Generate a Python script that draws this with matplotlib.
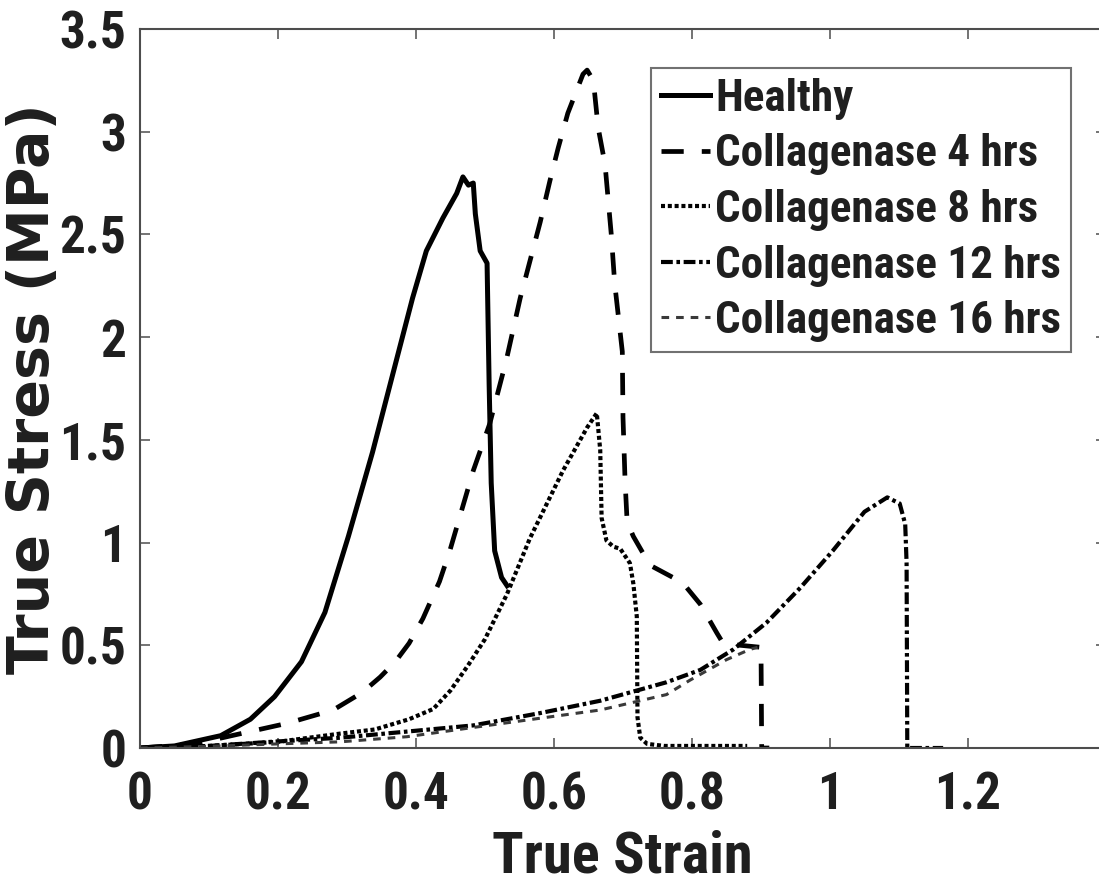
import matplotlib
matplotlib.use("Agg")
import matplotlib.pyplot as plt
from matplotlib import font_manager

# ---- data: true strain / true stress (MPa) for each specimen group ----
healthy_strain = [0, 0.05, 0.117, 0.16, 0.195, 0.234, 0.268, 0.302, 0.337, 0.371,
                  0.395, 0.415, 0.439, 0.459, 0.468, 0.476, 0.483, 0.486, 0.493,
                  0.503, 0.506, 0.509, 0.514, 0.524, 0.532]
healthy_stress = [0, 0.01, 0.06, 0.14, 0.25, 0.42, 0.66, 1.03, 1.44, 1.88,
                  2.19, 2.42, 2.58, 2.70, 2.78, 2.74, 2.75, 2.60, 2.42,
                  2.36, 1.77, 1.29, 0.96, 0.83, 0.79]

c4_strain = [0, 0.08, 0.146, 0.213, 0.28, 0.322, 0.348, 0.37, 0.39, 0.41, 0.434, 0.449,
             0.483, 0.507, 0.531, 0.551, 0.58, 0.594, 0.606, 0.62, 0.642, 0.648,
             0.657, 0.664, 0.674, 0.683, 0.688, 0.699, 0.700, 0.703, 0.706, 0.715,
             0.739, 0.778, 0.79, 0.812, 0.836, 0.845, 0.87, 0.9, 0.901, 0.912]
c4_stress = [0, 0.02, 0.07, 0.12, 0.185, 0.27, 0.345, 0.42, 0.51, 0.63, 0.81, 0.96,
             1.35, 1.58, 1.89, 2.19, 2.56, 2.76, 2.92, 3.09, 3.28, 3.30,
             3.25, 3.02, 2.84, 2.50, 2.26, 1.93, 1.61, 1.30, 1.10, 1.03,
             0.89, 0.82, 0.79, 0.70, 0.56, 0.51, 0.50, 0.49, 0.0, 0.0]

c8_strain = [0, 0.1, 0.2, 0.29, 0.34, 0.39, 0.425, 0.45, 0.475, 0.5, 0.532, 0.565,
             0.613, 0.648, 0.662, 0.667, 0.669, 0.676, 0.686, 0.696, 0.71, 0.715,
             0.72, 0.721, 0.725, 0.735, 0.76, 0.88]
c8_stress = [0, 0.01, 0.03, 0.07, 0.09, 0.14, 0.19, 0.28, 0.40, 0.53, 0.75, 1.02,
             1.35, 1.56, 1.63, 1.45, 1.12, 1.01, 0.98, 0.97, 0.90, 0.80,
             0.64, 0.15, 0.05, 0.02, 0.01, 0.01]

c12_strain = [0, 0.1, 0.19, 0.29, 0.387, 0.483, 0.58, 0.667, 0.763, 0.812, 0.86,
              0.908, 0.957, 1.004, 1.05, 1.083, 1.101, 1.109, 1.111, 1.112, 1.164]
c12_stress = [0, 0.01, 0.03, 0.05, 0.08, 0.11, 0.17, 0.23, 0.32, 0.38, 0.48,
              0.61, 0.78, 0.96, 1.15, 1.22, 1.19, 1.09, 0.90, 0.0, 0.0]

c16_strain = [0, 0.1, 0.2, 0.29, 0.387, 0.483, 0.58, 0.667, 0.763, 0.797, 0.85,
              0.884, 0.895]
c16_stress = [0, 0.008, 0.02, 0.03, 0.055, 0.10, 0.145, 0.185, 0.26, 0.33, 0.43,
              0.48, 0.49]

series_labels = ["Healthy", "Collagenase 4 hrs", "Collagenase 8 hrs",
                 "Collagenase 12 hrs", "Collagenase 16 hrs"]
x_ticks = [0, 0.2, 0.4, 0.6, 0.8, 1.0, 1.2]
x_tick_labels = ["0", "0.2", "0.4", "0.6", "0.8", "1", "1.2"]
y_ticks = [0, 0.5, 1.0, 1.5, 2.0, 2.5, 3.0, 3.5]
y_tick_labels = ["0", "0.5", "1", "1.5", "2", "2.5", "3", "3.5"]


# ---- fonts: a narrow bold sans for horizontal text ----
def pick_narrow():
    bold = {}
    for f in font_manager.fontManager.ttflist:
        w = f.weight if isinstance(f.weight, int) else 400
        bold[f.name] = max(bold.get(f.name, 0), w)
    for name in ["Liberation Sans Narrow", "Arial Narrow", "Nimbus Sans Narrow",
                 "Roboto Condensed", "PT Sans Narrow", "Fira Sans Condensed"]:
        if bold.get(name, 0) >= 700:
            return [name, "Liberation Sans"], "normal"
    return ["DejaVu Sans"], "condensed"


narrow_family, narrow_stretch = pick_narrow()
plt.rcParams["font.family"] = narrow_family
plt.rcParams["font.stretch"] = narrow_stretch
plt.rcParams["font.weight"] = "bold"
plt.rcParams["lines.scale_dashes"] = False

ink = "#1f1f1f"
axis_grey = "#4d4d4d"

W, H = 1099, 888
fig = plt.figure(figsize=(W / 100, H / 100), dpi=100)
# the plotting box runs slightly past the right edge of the canvas
ax = fig.add_axes([140 / W, 140 / H, 966 / W, 719 / H])

ax.plot(healthy_strain, healthy_stress, color="black", lw=3.6,
        solid_joinstyle="round", label=series_labels[0])
ax.plot(c4_strain, c4_stress, color="black", lw=3.4,
        dashes=(16, 13), dash_capstyle="butt", label=series_labels[1])
ax.plot(c8_strain, c8_stress, color="black", lw=3.0,
        dashes=(2.9, 2.0), dash_capstyle="butt", label=series_labels[2])
ax.plot(c12_strain, c12_stress, color="black", lw=3.0,
        dashes=(8.5, 2.6, 2.6, 2.6), dash_capstyle="butt", label=series_labels[3])
ax.plot(c16_strain, c16_stress, color="#3a3a3a", lw=2.2,
        dashes=(5.5, 5.0), dash_capstyle="butt", label=series_labels[4])

ax.set_xlim(0, 1.4)
ax.set_ylim(0, 3.5)
ax.set_xticks(x_ticks)
ax.set_xticklabels(x_tick_labels)
ax.set_yticks(y_ticks)
ax.set_yticklabels(y_tick_labels)

for s in ax.spines.values():
    s.set_color(axis_grey)
    s.set_linewidth(1.5)
ax.tick_params(axis="both", direction="in", length=7, width=1.1, color=axis_grey,
               labelsize=37, labelcolor=ink, top=True, right=True)
ax.tick_params(axis="y", pad=10)
ax.tick_params(axis="x", pad=16)

ax.set_xlabel("True Strain", fontsize=42, fontweight="bold", color=ink)
ax.xaxis.set_label_coords(0.499, -124 / 719)
ax.xaxis.label.set_va("baseline")

ax.set_ylabel("True Stress (MPa)", fontsize=41, fontweight="bold", color=ink,
              family=["DejaVu Sans"], fontstretch="normal")
ax.yaxis.set_label_coords(-106 / 966, 0.5)
ax.yaxis.label.set_va("center")

leg = ax.legend(loc="upper left", bbox_to_anchor=(651 / W, 1 - 68 / H),
                bbox_transform=fig.transFigure, borderaxespad=0,
                prop={"size": 32.5, "weight": "bold"}, frameon=True, fancybox=False,
                handlelength=1.08, handletextpad=0.12, labelspacing=0.3,
                borderpad=0.22)
leg.get_frame().set_edgecolor(axis_grey)
leg.get_frame().set_linewidth(1.5)
for t in leg.get_texts():
    t.set_color(ink)

fig.savefig("out.png", dpi=100)
